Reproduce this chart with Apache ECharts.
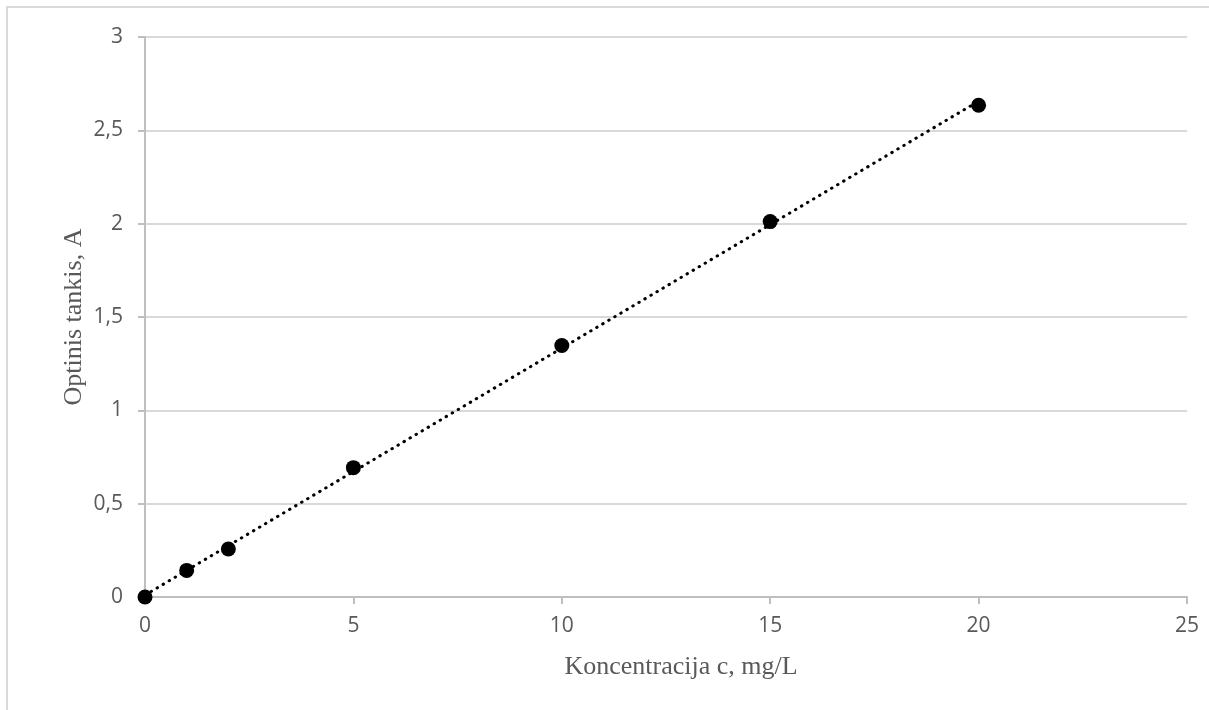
<!DOCTYPE html>
<html>
<head>
<meta charset="utf-8">
<script src="https://cdn.jsdelivr.net/npm/echarts@6/dist/echarts.min.js"></script>
<style>
  html, body { margin: 0; padding: 0; background: #fff; }
  #chart { width: 1209px; height: 710px; }
</style>
</head>
<body>
<div id="chart"></div>
<script>
// Calibration data: concentration (mg/L) vs optical density (A)
const concentration = [0, 1, 2, 5, 10, 15, 20];
const absorbance = [0, 0.1425, 0.257, 0.693, 1.347, 2.011, 2.634];

const xTicks = [0, 5, 10, 15, 20, 25];
const yTicks = [0, 0.5, 1, 1.5, 2, 2.5, 3];

const xTitle = 'Koncentracija c, mg/L';
const yTitle = 'Optinis tankis, A';

// Least-squares linear trendline through the measured points
function linearFit(xs, ys) {
  const n = xs.length;
  const mx = xs.reduce((a, b) => a + b, 0) / n;
  const my = ys.reduce((a, b) => a + b, 0) / n;
  let sxy = 0, sxx = 0;
  for (let i = 0; i < n; i++) {
    sxy += (xs[i] - mx) * (ys[i] - my);
    sxx += (xs[i] - mx) * (xs[i] - mx);
  }
  const k = sxy / sxx;
  return { k: k, b: my - k * mx };
}
const fit = linearFit(concentration, absorbance);
const xMin = concentration[0], xMax = concentration[concentration.length - 1];
const trend = [[xMin, fit.k * xMin + fit.b], [xMax, fit.k * xMax + fit.b]];

const fmt = v => String(v).replace('.', ',');

const chart = echarts.init(document.getElementById('chart'), null, { renderer: 'canvas' });
chart.setOption({
  backgroundColor: '#ffffff',
  animation: false,
  grid: { left: 145, right: 22, top: 37, bottom: 113, containLabel: false },
  xAxis: {
    type: 'value',
    min: xTicks[0], max: xTicks[xTicks.length - 1], interval: 5,
    axisLine: { show: true, lineStyle: { color: '#bfbfbf', width: 2 } },
    axisTick: { show: true, length: 7, lineStyle: { color: '#bfbfbf', width: 2 } },
    splitLine: { show: false },
    axisLabel: { color: '#595959', fontFamily: 'Open Sans', fontSize: 21, margin: 19, formatter: fmt }
  },
  yAxis: {
    type: 'value',
    min: yTicks[0], max: yTicks[yTicks.length - 1], interval: 0.5,
    axisLine: { show: true, lineStyle: { color: '#bfbfbf', width: 2 } },
    axisTick: { show: true, length: 7, lineStyle: { color: '#bfbfbf', width: 2 } },
    splitLine: { show: true, lineStyle: { color: '#d9d9d9', width: 2 } },
    axisLabel: { color: '#595959', fontFamily: 'Open Sans', fontSize: 21, margin: 22, formatter: fmt }
  },
  series: [
    {
      type: 'line',
      data: trend,
      symbol: 'none',
      z: 2,
      lineStyle: { color: '#000', width: 3, type: [0.5, 6.5], cap: 'round' }
    },
    {
      type: 'scatter',
      data: concentration.map((c, i) => [c, absorbance[i]]),
      symbol: 'circle',
      symbolSize: 15,
      z: 3,
      itemStyle: { color: '#000', opacity: 1 }
    }
  ],
  graphic: [
    {
      type: 'rect',
      shape: { x: 7, y: 7, width: 1400, height: 900 },
      style: { fill: 'none', stroke: '#d9d9d9', lineWidth: 2 },
      silent: true
    },
    {
      type: 'text',
      x: 681, y: 667,
      style: {
        text: xTitle, fill: '#595959',
        font: '26px "Liberation Serif"',
        textAlign: 'center', textVerticalAlign: 'middle'
      }
    },
    {
      type: 'text',
      x: 74, y: 317,
      rotation: Math.PI / 2,
      style: {
        text: yTitle, fill: '#595959',
        font: '26px "Liberation Serif"',
        textAlign: 'center', textVerticalAlign: 'middle'
      }
    }
  ]
});
</script>
</body>
</html>
